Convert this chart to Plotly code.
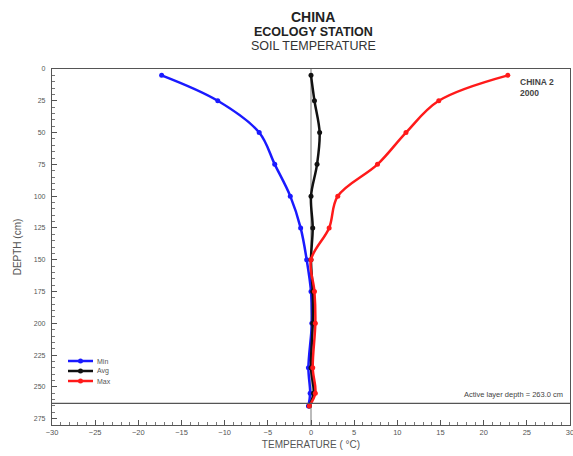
import plotly.graph_objects as go

depth = [5, 25, 50, 75, 100, 125, 150, 175, 200, 235, 255, 265]
t_min = [-17.3, -10.8, -6.0, -4.2, -2.4, -1.2, -0.5, 0.0, 0.1, -0.3, -0.1, -0.3]
t_avg = [0.0, 0.4, 1.0, 0.7, 0.0, 0.2, 0.0, 0.2, 0.2, 0.0, 0.3, -0.2]
t_max = [22.8, 14.8, 11.0, 7.7, 3.1, 2.1, 0.0, 0.4, 0.5, 0.2, 0.5, -0.2]
series_names = ["Min", "Avg", "Max"]
series_colors = ["#1a1aff", "#111111", "#ff1a1a"]
active_layer = 263.0
x_ticks = [-30, -25, -20, -15, -10, -5, 0, 5, 10, 15, 20, 25, 30]
y_ticks = [0, 25, 50, 75, 100, 125, 150, 175, 200, 225, 250, 275]

W, H = 573, 456
ML, MR, MT, MB = 52, 3, 69, 31
PW, PH = W - ML - MR, H - MT - MB


def px(xp):
    return (xp - ML) / PW


def py(yp):
    return 1 - (yp - MT) / PH


fig = go.Figure()
for name, vals, col in zip(series_names, [t_min, t_avg, t_max], series_colors):
    fig.add_trace(go.Scatter(x=vals, y=depth, name=name, mode="lines+markers",
                             line=dict(color=col, width=2.5, shape="spline"),
                             marker=dict(color=col, size=5), showlegend=False))

# compact legend (drawn with shapes + text)
for i, (name, col) in enumerate(zip(series_names, series_colors)):
    yy = py(361 + 10 * i)
    fig.add_shape(type="line", xref="paper", yref="paper", x0=px(68), x1=px(93), y0=yy, y1=yy,
                  line=dict(color=col, width=2.5))
    fig.add_shape(type="circle", xref="paper", yref="paper",
                  x0=px(78), x1=px(83), y0=yy - 2.5 / PH, y1=yy + 2.5 / PH,
                  fillcolor=col, line=dict(color=col, width=0))
    fig.add_annotation(x=px(95), y=yy, xref="paper", yref="paper", text=name, showarrow=False,
                       xanchor="left", yanchor="middle", font=dict(size=7, color="#555555"))

fig.add_shape(type="line", xref="x", yref="y", x0=-30, x1=30, y0=active_layer, y1=active_layer,
              line=dict(color="#555555", width=1.2))

fig.add_annotation(x=1, xref="paper", y=active_layer, yref="y", yshift=9, xshift=-5,
                   text=f"Active layer depth = {active_layer:.1f} cm", showarrow=False,
                   xanchor="right", yanchor="middle", font=dict(size=7.5, color="#444444"))
fig.add_annotation(x=px(518), xref="paper", y=py(75), yref="paper",
                   text="<b>CHINA 2<br>2000</b>", showarrow=False, xanchor="left", yanchor="top",
                   align="left", font=dict(size=8.5, color="#444444"))

# titles
fig.add_annotation(x=px(313), y=py(17), xref="paper", yref="paper", text="<b>CHINA</b>",
                   showarrow=False, yanchor="middle", font=dict(size=14, color="#222222"))
fig.add_annotation(x=px(313), y=py(32), xref="paper", yref="paper", text="<b>ECOLOGY STATION</b>",
                   showarrow=False, yanchor="middle", font=dict(size=12.5, color="#222222"))
fig.add_annotation(x=px(313), y=py(46), xref="paper", yref="paper", text="SOIL TEMPERATURE",
                   showarrow=False, yanchor="middle", font=dict(size=12.5, color="#333333"))

fig.update_layout(
    width=W, height=H,
    margin=dict(l=ML, r=MR, t=MT, b=MB, autoexpand=False),
    paper_bgcolor="white", plot_bgcolor="white",
    font=dict(family="Liberation Sans", color="#333333"),
    showlegend=False,
)
fig.update_xaxes(range=[-30, 30], tickvals=x_ticks, ticks="inside", ticklen=5, tickcolor="#555555",
                 minor=dict(ticks="inside", ticklen=3, dtick=1, tickcolor="#777777"),
                 showgrid=False, zeroline=True, zerolinecolor="#bbbbbb", zerolinewidth=1.5,
                 showline=True, linecolor="#555555", linewidth=1.2, mirror=True,
                 tickfont=dict(size=7.5, color="#555555"), ticklabeloverflow="allow",
                 title=dict(text="TEMPERATURE ( °C)", font=dict(size=10, color="#555555"), standoff=4))
fig.update_yaxes(range=[280, 0], tickvals=y_ticks, ticks="inside", ticklen=5, tickcolor="#555555",
                 minor=dict(ticks="inside", ticklen=3, dtick=5, tickcolor="#777777"),
                 showgrid=False, zeroline=False,
                 showline=True, linecolor="#555555", linewidth=1.2, mirror=True,
                 tickfont=dict(size=7, color="#555555"), ticklabelstandoff=4,
                 title=dict(text="DEPTH (cm)", font=dict(size=10, color="#555555"), standoff=10))

fig.write_html("out.html", config={"displayModeBar": False},
               post_script="document.body.style.margin='0px';")
